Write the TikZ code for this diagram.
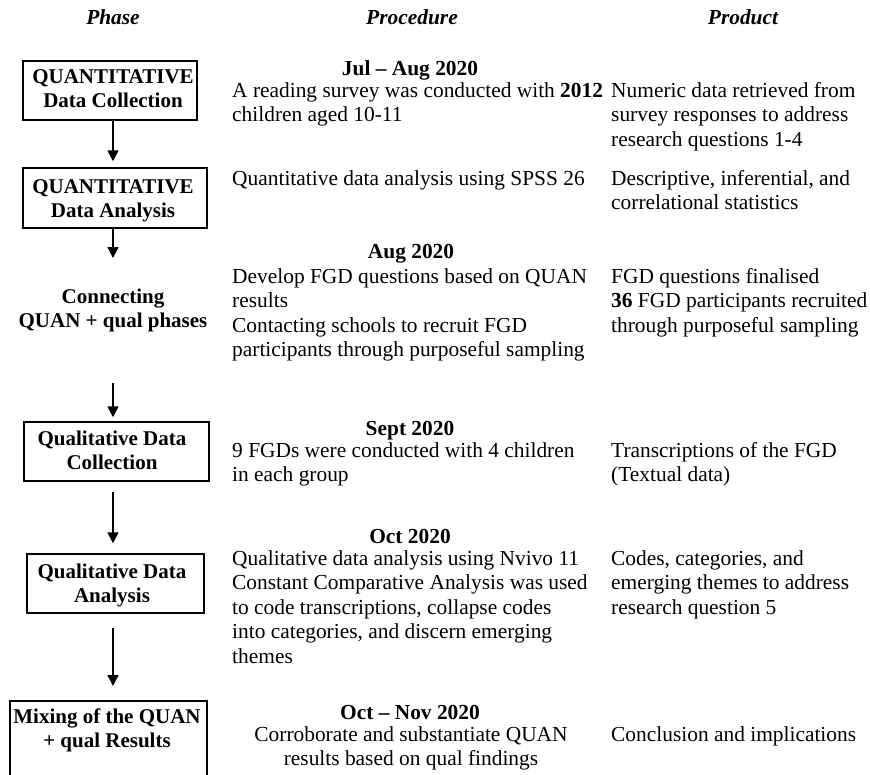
\documentclass[tikz,border=0pt]{standalone}
\usepackage{fontspec}
\setmainfont{Liberation Serif}
\usetikzlibrary{arrows.meta}
\tikzset{
  base/.style={inner sep=0pt, font=\fontsize{21.4}{24.5}\selectfont},
  ptext/.style={base, anchor=north west, align=left},
  ctext/.style={base, anchor=north, align=center},
  datetext/.style={base, anchor=north, align=center, font=\fontsize{21.4}{24.5}\selectfont\bfseries},
  head/.style={base, anchor=north, font=\fontsize{21.4}{24.5}\selectfont\bfseries\itshape},
  phasetext/.style={base, anchor=north, align=center, font=\fontsize{21}{24.5}\selectfont\bfseries},
  phasebox/.style={draw, line width=1.5pt, rectangle, inner sep=0pt},
  arr/.style={line width=1.7pt, -{Triangle[width=11pt,length=11pt]}}
}
\begin{document}
\begin{tikzpicture}[x=1pt,y=-1pt]
\useasboundingbox (0,0) rectangle (870,774);
\clip (0,0) rectangle (870,774);
% headers
\node[head] (hphase) at (113,6.85) {\strut Phase};
\node[head] (hproc) at (412,6.85) {\strut Procedure};
\node[head] (hprod) at (743,6.85) {\strut Product};
% phase boxes
\node[phasebox, minimum width=174pt, minimum height=59pt] (b1) at (110,90.5) {};
\node[phasebox, minimum width=184pt, minimum height=60pt] (b2) at (115,198) {};
\node[phasebox, minimum width=185pt, minimum height=59pt] (b3) at (116.5,451.5) {};
\node[phasebox, minimum width=177pt, minimum height=59pt] (b4) at (115.5,583.5) {};
\node[phasebox, minimum width=197pt, minimum height=120pt, anchor=north] (b5) at (108.5,700) {};
% phase texts
\node[phasetext] (t1) at (113,65.85) {\strut QUANTITATIVE\\Data Collection};
\node[phasetext] (t2) at (113,175.85) {\strut QUANTITATIVE\\Data Analysis};
\node[phasetext] (tc) at (113,285.85) {\strut Connecting\\QUAN + qual phases};
\node[phasetext] (t3) at (112,427.85) {\strut Qualitative Data\\Collection};
\node[phasetext] (t4) at (112,560.85) {\strut Qualitative Data\\Analysis};
\node[phasetext] (t5) at (107,705.85) {\strut Mixing of the QUAN\\+ qual Results};
% arrows
\coordinate (a2end) at (113,258);
\coordinate (a3start) at (113,383);
\draw[arr, shorten >=6pt] (b1.south -| t1.center) -- (b2.north -| t1.center);
\draw[arr] (b2.south -| t2.center) -- (a2end);
\draw[arr, shorten >=4pt] (a3start) -- (b3.north -| tc.center);
\draw[arr, shorten <=10pt, shorten >=10pt] (b3.south -| tc.center) -- (b4.north -| tc.center);
\draw[arr, shorten <=14pt, shorten >=14pt] (b4.south -| tc.center) -- (b5.north -| tc.center);
% row 1
\node[datetext] (d1) at (410,57.85) {\strut Jul -- Aug 2020};
\node[ptext] (p1) at (232,79.85) {\strut A reading survey was conducted with \textbf{2012}\\children aged 10-11};
\node[ptext] (r1) at (611,79.85) {\strut Numeric data retrieved from\\survey responses to address\\research questions 1-4};
% row 2
\node[ptext] (p2) at (232,167.85) {\strut Quantitative data analysis using SPSS 26};
\node[ptext] (r2) at (611,167.85) {\strut Descriptive, inferential, and\\correlational statistics};
% row 3
\node[datetext] (d3) at (411,240.85) {\strut Aug 2020};
\node[ptext] (p3) at (232,265.85) {\strut Develop FGD questions based on QUAN\\results\\Contacting schools to recruit FGD\\participants through purposeful sampling};
\node[ptext] (r3) at (611,265.85) {\strut FGD questions finalised\\\textbf{36} FGD participants recruited\\through purposeful sampling};
% row 4
\node[datetext] (d4) at (410,417.85) {\strut Sept 2020};
\node[ptext] (p4) at (232,439.85) {\strut 9 FGDs were conducted with 4 children\\in each group};
\node[ptext] (r4) at (611,439.85) {\strut Transcriptions of the FGD\\(Textual data)};
% row 5
\node[datetext] (d5) at (410,525.85) {\strut Oct 2020};
\node[ptext] (p5) at (232,547.85) {\strut Qualitative data analysis using Nvivo 11\\Constant Comparative Analysis was used\\to code transcriptions, collapse codes\\into categories, and discern emerging\\themes};
\node[ptext] (r5) at (611,547.85) {\strut Codes, categories, and\\emerging themes to address\\research question 5};
% row 6
\node[datetext] (d6) at (410,701.85) {\strut Oct -- Nov 2020};
\node[ctext] (p6) at (411,723.85) {\strut Corroborate and substantiate QUAN\\results based on qual findings};
\node[ptext] (r6) at (611,723.85) {\strut Conclusion and implications};
\end{tikzpicture}
\end{document}
